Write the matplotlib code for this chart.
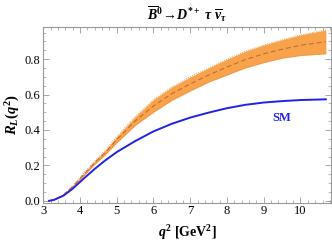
import matplotlib
matplotlib.use("Agg")
import matplotlib.pyplot as plt
from matplotlib.ticker import MultipleLocator, FormatStrFormatter

plt.rcParams['font.family'] = ['Liberation Serif', 'DejaVu Serif']
plt.rcParams['mathtext.fontset'] = 'custom'
plt.rcParams['mathtext.rm'] = 'Liberation Serif:bold'
plt.rcParams['mathtext.it'] = 'Liberation Serif:italic:bold'
plt.rcParams['mathtext.bf'] = 'Liberation Serif:bold'

# values
q2 = [3.16, 3.3, 3.55, 3.8, 4.1, 4.4, 4.7, 5.0, 5.5, 6.0, 6.5, 7.0, 7.5, 8.0, 8.5, 9.0, 9.5, 10.0, 10.69]
sm = [0.0, 0.006, 0.029, 0.068, 0.125, 0.18, 0.23, 0.275, 0.337, 0.392, 0.435, 0.47, 0.498,
      0.523, 0.542, 0.555, 0.563, 0.569, 0.573]
np_mid = [0.0, 0.007, 0.033, 0.08, 0.148, 0.215, 0.275, 0.345, 0.45, 0.535, 0.605, 0.66, 0.71,
          0.755, 0.797, 0.83, 0.856, 0.878, 0.898]
np_hi = [0.0, 0.008, 0.036, 0.085, 0.156, 0.225, 0.288, 0.363, 0.475, 0.572, 0.643, 0.70, 0.75,
         0.80, 0.845, 0.88, 0.91, 0.937, 0.965]
np_lo = [0.0, 0.006, 0.030, 0.075, 0.140, 0.205, 0.262, 0.327, 0.425, 0.50, 0.567, 0.62, 0.67,
         0.71, 0.75, 0.78, 0.805, 0.82, 0.83]

fig = plt.figure(figsize=(3.32, 2.45), dpi=100)
ax = fig.add_axes([0.130, 0.173, 0.867, 0.718])

ax.fill_between(q2, np_lo, np_hi, color='#F9A24C', lw=0)
ax.plot(q2, np_hi, color='#E08A3A', lw=0.6, ls=':')
ax.plot(q2, np_lo, color='#E08A3A', lw=0.6, ls=':')
ax.plot(q2, np_mid, color='#B8672A', lw=0.7, ls=(0, (5, 3)))
ax.plot(q2, sm, color='#2222E6', lw=1.4)

ax.text(9.5, 0.465, 'SM', color='#2222E6', fontsize=9, fontweight='bold', ha='center', va='center')

ax.set_xlim(3.0, 10.83)
ax.set_ylim(-0.01, 0.983)
ax.xaxis.set_major_locator(MultipleLocator(1))
ax.xaxis.set_minor_locator(MultipleLocator(0.2))
ax.yaxis.set_major_locator(MultipleLocator(0.2))
ax.yaxis.set_minor_locator(MultipleLocator(0.05))
ax.yaxis.set_major_formatter(FormatStrFormatter('%.1f'))

for s in ax.spines.values():
    s.set_color('#999999')
    s.set_linewidth(0.8)
ax.tick_params(which='both', direction='in', top=True, right=True, colors='#999999',
               labelcolor='black', labelsize=9, pad=2)
ax.tick_params(which='major', length=4, width=0.6)
ax.tick_params(which='minor', length=2, width=0.5)

ax.set_title(r'$\overline{B}^0\!\rightarrow\! D^{*+}\ \tau\ \overline{\nu}_\tau$', fontsize=10, pad=5)
ax.set_xlabel(r'$q^2$ [GeV$^2$]', fontsize=10, fontweight='bold', labelpad=4)
ax.set_ylabel(r'$R_L(q^2)$', fontsize=10.5, labelpad=2)

fig.savefig('out.png', dpi=100)
